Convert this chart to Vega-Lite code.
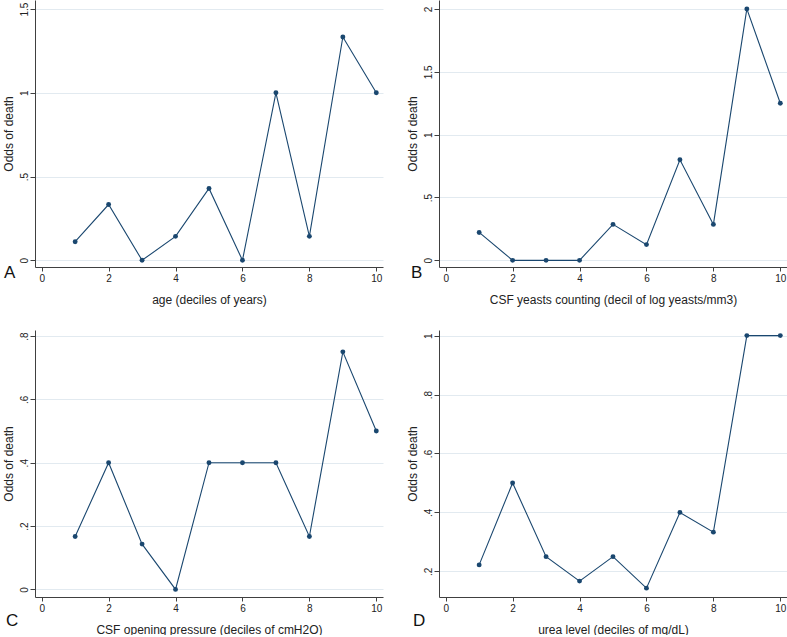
{
  "$schema": "https://vega.github.io/schema/vega-lite/v6.json",
  "padding": {"left": 2, "top": 0, "right": 0, "bottom": 0},
  "background": "white",
  "datasets": {
    "A": [
      {"decile": 1, "odds": 0.111}, {"decile": 2, "odds": 0.333}, {"decile": 3, "odds": 0},
      {"decile": 4, "odds": 0.143}, {"decile": 5, "odds": 0.429}, {"decile": 6, "odds": 0},
      {"decile": 7, "odds": 1.0}, {"decile": 8, "odds": 0.143}, {"decile": 9, "odds": 1.333},
      {"decile": 10, "odds": 1.0}
    ],
    "B": [
      {"decile": 1, "odds": 0.222}, {"decile": 2, "odds": 0}, {"decile": 3, "odds": 0},
      {"decile": 4, "odds": 0}, {"decile": 5, "odds": 0.286}, {"decile": 6, "odds": 0.125},
      {"decile": 7, "odds": 0.8}, {"decile": 8, "odds": 0.286}, {"decile": 9, "odds": 2.0},
      {"decile": 10, "odds": 1.25}
    ],
    "C": [
      {"decile": 1, "odds": 0.167}, {"decile": 2, "odds": 0.4}, {"decile": 3, "odds": 0.143},
      {"decile": 4, "odds": 0}, {"decile": 5, "odds": 0.4}, {"decile": 6, "odds": 0.4},
      {"decile": 7, "odds": 0.4}, {"decile": 8, "odds": 0.167}, {"decile": 9, "odds": 0.75},
      {"decile": 10, "odds": 0.5}
    ],
    "D": [
      {"decile": 1, "odds": 0.222}, {"decile": 2, "odds": 0.5}, {"decile": 3, "odds": 0.25},
      {"decile": 4, "odds": 0.167}, {"decile": 5, "odds": 0.25}, {"decile": 6, "odds": 0.143},
      {"decile": 7, "odds": 0.4}, {"decile": 8, "odds": 0.333}, {"decile": 9, "odds": 1.0},
      {"decile": 10, "odds": 1.0}
    ]
  },
  "config": {
    "view": {"stroke": null},
    "font": "Liberation Sans",
    "axis": {
      "domainColor": "#404040",
      "tickColor": "#404040",
      "labelColor": "#222222",
      "titleColor": "#222222",
      "labelFont": "Liberation Sans",
      "titleFont": "Liberation Sans",
      "titleFontWeight": "normal",
      "labelFontSize": 10,
      "titleFontSize": 12,
      "gridColor": "#e2eaf0",
      "gridWidth": 1
    },
    "axisX": {"grid": false, "tickSize": 4, "labelPadding": 2, "titlePadding": 11, "labelFlush": false},
    "axisY": {"grid": true, "tickSize": 5, "labelPadding": 1, "labelAngle": -90, "labelAlign": "center", "labelBaseline": "bottom", "titlePadding": 4},
    "title": {"font": "Liberation Sans", "fontSize": 17, "fontWeight": "normal", "color": "#111111"}
  },
  "concat": [
    {
      "width": 348, "height": 267,
      "data": {"name": "A"},
      "title": {"text": "A", "orient": "bottom", "anchor": "start", "frame": "group", "align": "left", "baseline": "top", "offset": 0, "dx": -31, "dy": -40},
      "encoding": {
        "x": {"field": "decile", "type": "quantitative", "scale": {"domain": [-0.2, 10.2], "nice": false, "zero": false}, "axis": {"values": [0, 2, 4, 6, 8, 10], "title": "age (deciles of years)"}},
        "y": {"field": "odds", "type": "quantitative", "scale": {"domain": [-0.04, 1.554], "nice": false, "zero": false}, "axis": {"values": [0, 0.5, 1, 1.5], "labelExpr": "replace(format(datum.value, '~g'), '0.', '.')", "title": "Odds of death"}}
      },
      "layer": [
        {"mark": {"type": "line", "color": "#1a476f", "strokeWidth": 1.1}},
        {"mark": {"type": "point", "filled": true, "color": "#1a476f", "opacity": 1, "size": 24}}
      ]
    },
    {
      "width": 348, "height": 267,
      "data": {"name": "B"},
      "title": {"text": "B", "orient": "bottom", "anchor": "start", "frame": "group", "align": "left", "baseline": "top", "offset": 0, "dx": -28, "dy": -40},
      "encoding": {
        "x": {"field": "decile", "type": "quantitative", "scale": {"domain": [-0.2, 10.2], "nice": false, "zero": false}, "axis": {"values": [0, 2, 4, 6, 8, 10], "title": "CSF yeasts counting (decil of log yeasts/mm3)"}},
        "y": {"field": "odds", "type": "quantitative", "scale": {"domain": [-0.053, 2.071], "nice": false, "zero": false}, "axis": {"values": [0, 0.5, 1, 1.5, 2], "labelExpr": "replace(format(datum.value, '~g'), '0.', '.')", "title": "Odds of death"}}
      },
      "layer": [
        {"mark": {"type": "line", "color": "#1a476f", "strokeWidth": 1.1}},
        {"mark": {"type": "point", "filled": true, "color": "#1a476f", "opacity": 1, "size": 24}}
      ]
    },
    {
      "width": 348, "height": 267,
      "data": {"name": "C"},
      "title": {"text": "C", "orient": "bottom", "anchor": "start", "frame": "group", "align": "left", "baseline": "top", "offset": 0, "dx": -29, "dy": -22},
      "encoding": {
        "x": {"field": "decile", "type": "quantitative", "scale": {"domain": [-0.2, 10.2], "nice": false, "zero": false}, "axis": {"values": [0, 2, 4, 6, 8, 10], "title": "CSF opening pressure (deciles of cmH2O)"}},
        "y": {"field": "odds", "type": "quantitative", "scale": {"domain": [-0.024, 0.819], "nice": false, "zero": false}, "axis": {"values": [0, 0.2, 0.4, 0.6, 0.8], "labelExpr": "replace(format(datum.value, '~g'), '0.', '.')", "title": "Odds of death"}}
      },
      "layer": [
        {"mark": {"type": "line", "color": "#1a476f", "strokeWidth": 1.1}},
        {"mark": {"type": "point", "filled": true, "color": "#1a476f", "opacity": 1, "size": 24}}
      ]
    },
    {
      "width": 348, "height": 267,
      "data": {"name": "D"},
      "title": {"text": "D", "orient": "bottom", "anchor": "start", "frame": "group", "align": "left", "baseline": "top", "offset": 0, "dx": -26, "dy": -22},
      "encoding": {
        "x": {"field": "decile", "type": "quantitative", "scale": {"domain": [-0.2, 10.2], "nice": false, "zero": false}, "axis": {"values": [0, 2, 4, 6, 8, 10], "title": "urea level (deciles of mg/dL)"}},
        "y": {"field": "odds", "type": "quantitative", "scale": {"domain": [0.113, 1.019], "nice": false, "zero": false}, "axis": {"values": [0.2, 0.4, 0.6, 0.8, 1], "labelExpr": "replace(format(datum.value, '~g'), '0.', '.')", "title": "Odds of death"}}
      },
      "layer": [
        {"mark": {"type": "line", "color": "#1a476f", "strokeWidth": 1.1}},
        {"mark": {"type": "point", "filled": true, "color": "#1a476f", "opacity": 1, "size": 24}}
      ]
    }
  ],
  "columns": 2,
  "bounds": "flush",
  "spacing": {"column": 56, "row": 63}
}
